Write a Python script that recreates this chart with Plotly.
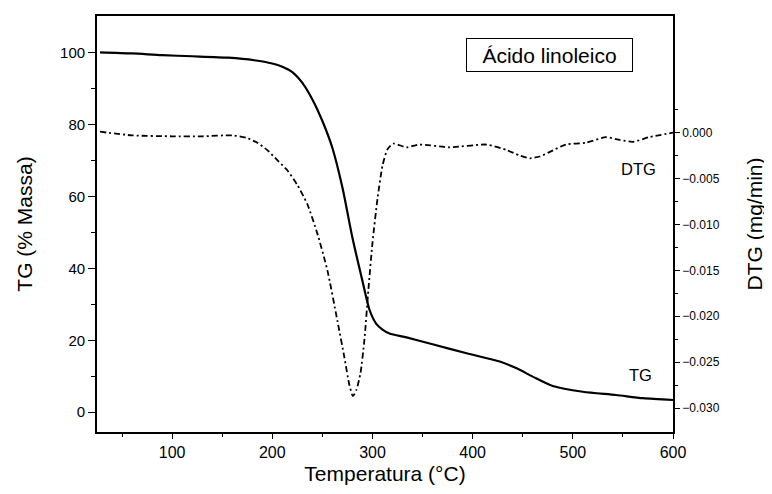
import plotly.graph_objects as go

# TG curve (left axis, % mass)
tg_temp = [28, 60, 90, 120, 156, 182, 200, 210, 220, 230, 240, 250, 260, 270, 280,
           290, 297, 304, 310, 317, 334, 360, 394, 427, 444, 460, 480, 510, 543, 570, 600]
tg_mass = [100.1, 99.8, 99.3, 99.0, 98.6, 97.9, 97.0, 96.1, 94.6, 91.6, 87.0, 81.0, 73.5,
           62.5, 48.5, 36.5, 28.5, 24.5, 23.0, 21.9, 20.8, 18.9, 16.4, 14.1, 12.2, 9.9,
           7.3, 5.7, 4.8, 3.9, 3.4]

# DTG curve (right axis, mg/min)
dtg_temp = [28, 60, 100, 130, 160, 175, 185, 195, 205, 215, 225, 235, 245, 255, 265, 272,
            277, 280.5, 284, 288, 292, 296, 300, 305, 310, 315, 321, 334, 347, 377, 414,
            434, 447, 457, 467, 477, 493, 513, 533, 547, 560, 576, 600]
dtg_rate = [0.0001, -0.0003, -0.0004, -0.0004, -0.0003, -0.0006, -0.0011, -0.0019, -0.0030,
            -0.0041, -0.0057, -0.0078, -0.0110, -0.0150, -0.0205, -0.0245, -0.0275, -0.0287,
            -0.0280, -0.0262, -0.0225, -0.0170, -0.0120, -0.0072, -0.0036, -0.0018, -0.0012,
            -0.0016, -0.0013, -0.0016, -0.0013, -0.0019, -0.0025, -0.0028, -0.0026, -0.0021,
            -0.0013, -0.0011, -0.0005, -0.0008, -0.0010, -0.0005, 0.0000]

x_ticks = [100, 200, 300, 400, 500, 600]
x_minor = [50, 150, 250, 350, 450, 550]
y_ticks = [0, 20, 40, 60, 80, 100]
y_minor = [10, 30, 50, 70, 90]
y2_ticks = [-0.030, -0.025, -0.020, -0.015, -0.010, -0.005, 0.000]
y2_minor = [-0.0275, -0.0225, -0.0175, -0.0125, -0.0075, -0.0025, 0.0025]

FONT = "Liberation Sans, Arial, sans-serif"
TITLE_SIZE = 21

fig = go.Figure()
fig.add_trace(go.Scatter(x=tg_temp, y=tg_mass, mode="lines", name="TG",
                         line=dict(color="black", width=2.2, shape="spline", smoothing=0.7),
                         yaxis="y"))
fig.add_trace(go.Scatter(x=dtg_temp, y=dtg_rate, mode="lines", name="DTG",
                         line=dict(color="black", width=1.8, dash="6px,3px,2px,3px",
                                   shape="spline", smoothing=0.6),
                         yaxis="y2"))

fig.update_layout(
    width=764, height=486,
    margin=dict(l=89, r=98.5, t=8, b=62, autoexpand=False),
    plot_bgcolor="white", paper_bgcolor="white",
    showlegend=False,
    font=dict(family=FONT, color="black"),
    xaxis=dict(
        range=[25, 600], tickvals=x_ticks, ticks="outside", ticklen=5, tickwidth=1.2,
        tickcolor="black", showline=True, linecolor="black", linewidth=1.8, mirror=True,
        showgrid=False, zeroline=False, tickfont=dict(size=16), automargin=False,
        minor=dict(tickvals=x_minor, ticks="outside", ticklen=3, tickcolor="black"),
        title=dict(text="Temperatura (°C)", font=dict(size=TITLE_SIZE), standoff=6),
    ),
    yaxis=dict(
        range=[-5.5, 110.2], tickvals=y_ticks, ticks="outside", ticklen=7, tickwidth=1.2,
        tickcolor="black", showline=True, linecolor="black", linewidth=1.8,
        showgrid=False, zeroline=False, tickfont=dict(size=15), automargin=False,
        minor=dict(tickvals=y_minor, ticks="outside", ticklen=4, tickcolor="black"),
        title=dict(text="TG (% Massa)", font=dict(size=TITLE_SIZE), standoff=22),
    ),
    yaxis2=dict(
        range=[-0.0326, 0.0127], overlaying="y", side="right", tickvals=y2_ticks,
        tickformat=".3f", ticks="outside", ticklen=5, tickwidth=1.2, tickcolor="black",
        showline=True, linecolor="black", linewidth=1.8, showgrid=False, zeroline=False,
        tickfont=dict(size=12), automargin=False,
        minor=dict(tickvals=y2_minor, ticks="outside", ticklen=3, tickcolor="black"),
        title=dict(text="DTG (mg/min)", font=dict(size=TITLE_SIZE), standoff=29),
    ),
    annotations=[
        dict(text="Ácido linoleico", x=477, y=99.3, xref="x", yref="y", showarrow=False,
             font=dict(size=TITLE_SIZE), bordercolor="black", borderwidth=1, borderpad=4,
             width=157, height=24, bgcolor="white", xanchor="center", yanchor="middle"),
        dict(text="DTG", x=566, y=-0.0040, xref="x", yref="y2", showarrow=False,
             font=dict(size=16.5), xanchor="center", yanchor="middle"),
        dict(text="TG", x=568, y=10.4, xref="x", yref="y", showarrow=False,
             font=dict(size=16.5), xanchor="center", yanchor="middle"),
    ],
)

fig.write_html("out.html")
